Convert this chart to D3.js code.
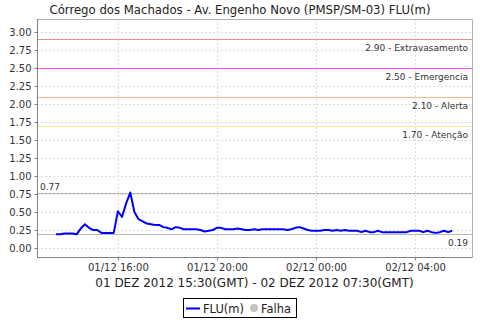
<!DOCTYPE html>
<html><head><meta charset="utf-8">
<script src="https://cdn.jsdelivr.net/npm/d3@7"></script>
<style>html,body{margin:0;padding:0;background:#fff;}svg{display:block;font-family:"DejaVu Sans",sans-serif;}</style>
</head><body>
<svg id="c" width="480" height="320"></svg>
<script>
const title = "Córrego dos Machados - Av. Engenho Novo (PMSP/SM-03) FLU(m)";
const xAxisLabel = "01 DEZ 2012 15:30(GMT) - 02 DEZ 2012 07:30(GMT)";
const seriesName = "FLU(m)";
const failName = "Falha";
// first reading (axis time) and reading interval in minutes
const startTime = "2012-12-01T13:30:00Z";
const stepMinutes = 10;
const values = [
  0.19,0.19,0.20,0.20,0.20,0.19,0.27,0.33,0.28,0.25,0.25,0.21,0.21,0.21,0.21,
  0.51,0.43,0.62,0.77,0.50,0.40,
  0.37,0.34,0.33,0.32,0.32,0.29,
  0.28,0.26,0.29,0.28,0.26,0.26,
  0.26,0.26,0.25,0.23,0.24,0.25,
  0.28,0.28,0.26,0.26,0.26,0.27,
  0.26,0.25,0.25,0.26,0.25,0.26,
  0.26,0.26,0.26,0.26,0.26,0.25,
  0.26,0.28,0.29,0.27,0.25,0.24,
  0.24,0.24,0.25,0.25,0.24,0.25,
  0.24,0.25,0.24,0.24,0.24,0.22,
  0.24,0.22,0.22,0.24,0.22,0.22,
  0.22,0.22,0.22,0.22,0.22,0.24,
  0.24,0.24,0.22,0.24,0.22,0.21,
  0.22,0.24,0.22,0.24
];
const xDomain = ["2012-12-01T12:44:00Z", "2012-12-02T06:18:00Z"];
const yDomain = [-0.125, 3.18];
const yTicks = [0,0.25,0.5,0.75,1,1.25,1.5,1.75,2,2.25,2.5,2.75,3];
const thresholdValues = [2.90, 2.50, 2.10, 1.70];
const thresholdLabels = ["2.90 - Extravasamento", "2.50 - Emergencia", "2.10 - Alerta", "1.70 - Atenção"];
const thresholdColors = ["#f08c8c", "#ff40ff", "#f5b988", "#f5eb9a"];

const data = values.map((v,i)=>({t:new Date(Date.parse(startTime)+i*stepMinutes*60000), v}));
const maxV = d3.max(values), minV = d3.min(values);

const svg = d3.select("#c");
const L=37, R=472, T=19, B=257;
const x = d3.scaleUtc().domain(xDomain.map(d=>new Date(d))).range([L,R]);
const y = d3.scaleLinear().domain(yDomain).range([B,T]);

// title
svg.append("text").attr("x",240).attr("y",14).attr("text-anchor","middle")
  .attr("font-size",11.7).attr("fill","#222").text(title);

// gridlines
const xTicks = x.ticks(d3.utcHour.every(4));
svg.append("g").selectAll("line").data(yTicks).join("line")
  .attr("x1",L).attr("x2",R).attr("y1",d=>Math.round(y(d))+0.5).attr("y2",d=>Math.round(y(d))+0.5)
  .attr("stroke","#dcdcdc").attr("stroke-dasharray","2,2");
svg.append("g").selectAll("line").data(xTicks).join("line")
  .attr("y1",T).attr("y2",B).attr("x1",d=>Math.round(x(d))+0.5).attr("x2",d=>Math.round(x(d))+0.5)
  .attr("stroke","#dcdcdc").attr("stroke-dasharray","2,2");

// threshold lines
thresholdValues.forEach((tv,i)=>{
  const yy = Math.round(y(tv))+0.5;
  svg.append("line").attr("x1",L).attr("x2",R).attr("y1",yy).attr("y2",yy)
    .attr("stroke",thresholdColors[i]).attr("stroke-width",1);
  svg.append("text").attr("x",R-4).attr("y",yy+11).attr("text-anchor","end")
    .attr("font-size",9).attr("fill","#333").text(thresholdLabels[i]);
});
// max / min markers
[maxV,minV].forEach((mv,i)=>{
  const yy = Math.round(y(mv))+0.5;
  svg.append("line").attr("x1",L).attr("x2",R).attr("y1",yy).attr("y2",yy)
    .attr("stroke","#b8b8b8").attr("stroke-width",1);
  if(i===0) svg.append("text").attr("x",L+3).attr("y",yy-4).attr("font-size",9).attr("fill","#333").text(d3.format(".2f")(mv));
  else svg.append("text").attr("x",R-4).attr("y",yy+11).attr("text-anchor","end").attr("font-size",9).attr("fill","#333").text(d3.format(".2f")(mv));
});

// series line
svg.append("path").datum(data)
  .attr("d",d3.line().x(d=>x(d.t)).y(d=>y(d.v)))
  .attr("fill","none").attr("stroke","#0000ff").attr("stroke-width",2).attr("stroke-linejoin","round");

// plot outline (top/right)
svg.append("path").attr("d",`M${L+0.5},${T+0.5}H${R+0.5}V${B+0.5}`).attr("fill","none").attr("stroke","#b0b0b0");

// axes
const yAxis = svg.append("g").attr("transform",`translate(${L+0.5},0)`)
  .call(d3.axisLeft(y).tickValues(yTicks).tickFormat(d3.format(".2f")).tickSize(3).tickPadding(3));
yAxis.select(".domain").attr("stroke","#808080").attr("d",`M0,${T}V${B+0.5}`);
yAxis.selectAll(".tick line").attr("stroke","#808080");
yAxis.selectAll("text").attr("font-size",10).attr("fill","#333").attr("font-family","DejaVu Sans");

const xAxis = svg.append("g").attr("transform",`translate(0,${B+0.5})`)
  .call(d3.axisBottom(x).tickValues(xTicks).tickFormat(d3.utcFormat("%d/%m %H:%M")).tickSize(3).tickPadding(3));
xAxis.select(".domain").attr("stroke","#808080").attr("d",`M${L},0H${R+0.5}`);
xAxis.selectAll(".tick line").attr("stroke","#808080");
xAxis.selectAll("text").attr("font-size",10).attr("fill","#333").attr("font-family","DejaVu Sans");

svg.append("text").attr("x",(L+R)/2).attr("y",287).attr("text-anchor","middle")
  .attr("font-size",12).attr("fill","#222").text(xAxisLabel);

// legend
const lg = svg.append("g");
lg.append("rect").attr("x",183.5).attr("y",298.5).attr("width",113).attr("height",19).attr("fill","#fff").attr("stroke","#000");
lg.append("line").attr("x1",186).attr("x2",200).attr("y1",308.5).attr("y2",308.5).attr("stroke","#0000ff").attr("stroke-width",2);
lg.append("text").attr("x",203).attr("y",312.5).attr("font-size",11.5).attr("fill","#222").text(seriesName);
lg.append("circle").attr("cx",254).attr("cy",308).attr("r",4).attr("fill","#c4c4c4");
lg.append("text").attr("x",261).attr("y",312.5).attr("font-size",11.5).attr("fill","#222").text(failName);
</script>
</body></html>
